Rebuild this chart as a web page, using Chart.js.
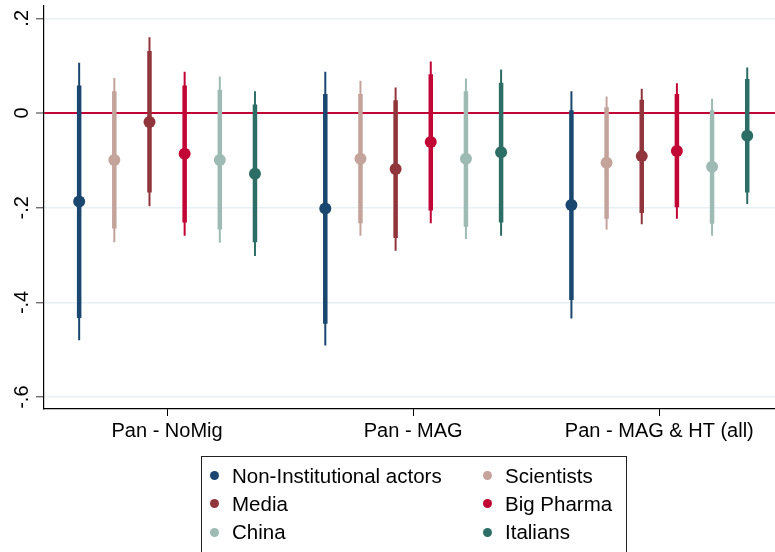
<!DOCTYPE html>
<html>
<head>
<meta charset="utf-8">
<script src="https://cdn.jsdelivr.net/npm/chart.js@4"></script>
<style>
    html, body { margin: 0; padding: 0; background: #fff; }
    #wrap { position: relative; width: 775px; height: 552px; overflow: hidden; }
    #legend {
        position: absolute; left: 201px; top: 456px; width: 426px; height: 120px;
        border: 1px solid #222; box-sizing: border-box;
        padding: 4.5px 0 0 8px;
        font-family: "Liberation Sans", Arial, Helvetica, sans-serif; font-size: 20.5px; color: #000;
        display: grid; grid-template-columns: 273px auto; grid-auto-rows: 28.3px;
    }
    .item { display: flex; align-items: center; white-space: nowrap; }
    .dot { width: 9px; height: 9px; border-radius: 50%; margin-right: 13px; flex: none; }
</style>
</head>
<body>
<div id="wrap">
    <canvas id="coefChart" width="775" height="552"></canvas>
    <div id="legend"></div>
</div>
<script>
// Categories (model specifications) and y ticks
const categories = ['Pan - NoMig', 'Pan - MAG', 'Pan - MAG & HT (all)'];
const yTicks = [-0.6, -0.4, -0.2, 0, 0.2];

// Series (one row per series, one column per category)
const seriesNames = ['Non-Institutional actors', 'Scientists', 'Media', 'Big Pharma', 'China', 'Italians'];
const seriesColors = ['#1a476f', '#c4a39b', '#90353b', '#c10534', '#9ebbb3', '#2c6e65'];

const estimates = [
    [-0.187, -0.2015, -0.194],
    [-0.099, -0.0965, -0.105],
    [-0.019, -0.118, -0.091],
    [-0.086, -0.061, -0.080],
    [-0.099, -0.0965, -0.1135],
    [-0.128, -0.083, -0.048]
];

// thick bars
const innerLow = [
    [-0.433, -0.445, -0.395],
    [-0.244, -0.233, -0.223],
    [-0.168, -0.264, -0.211],
    [-0.231, -0.206, -0.199],
    [-0.246, -0.240, -0.234],
    [-0.273, -0.231, -0.168]
];
const innerHigh = [
    [0.058, 0.040, 0.006],
    [0.046, 0.040, 0.012],
    [0.131, 0.027, 0.028],
    [0.058, 0.082, 0.040],
    [0.049, 0.046, 0.006],
    [0.018, 0.064, 0.072]
];

// thin bars
const outerLow = [
    [-0.480, -0.491, -0.434],
    [-0.273, -0.259, -0.246],
    [-0.197, -0.291, -0.235],
    [-0.259, -0.233, -0.223],
    [-0.274, -0.266, -0.259],
    [-0.302, -0.259, -0.192]
];
const outerHigh = [
    [0.106, 0.087, 0.046],
    [0.074, 0.068, 0.035],
    [0.160, 0.054, 0.051],
    [0.087, 0.109, 0.063],
    [0.077, 0.073, 0.030],
    [0.046, 0.092, 0.096]
];

const FONT = '"Liberation Sans", Arial, Helvetica, sans-serif';
const GRID_COLOR = '#e9f0f3';
const ZERO_COLOR = '#c10534';

// x position of series s in category c
function xPos(s, c) {
    return c + 1 + (s - (seriesNames.length - 1) / 2) / 7;
}

// vertical segments separated by nulls
function segments(s, low, high) {
    const pts = [];
    categories.forEach(function (cat, c) {
        pts.push({ x: xPos(s, c), y: low[s][c] });
        pts.push({ x: xPos(s, c), y: high[s][c] });
        pts.push({ x: xPos(s, c), y: null });
    });
    return pts;
}

const datasets = [];
seriesNames.forEach(function (name, s) {
    datasets.push({
        label: name,
        data: estimates[s].map(function (v, c) { return { x: xPos(s, c), y: v }; }),
        showLine: false,
        pointRadius: 6,
        pointHoverRadius: 6,
        pointBackgroundColor: seriesColors[s],
        pointBorderWidth: 0,
        order: 0
    });
    datasets.push({
        label: name + ' inner',
        data: segments(s, innerLow, innerHigh),
        borderColor: seriesColors[s],
        borderWidth: 4.5,
        pointRadius: 0,
        spanGaps: false,
        order: 1
    });
    datasets.push({
        label: name + ' outer',
        data: segments(s, outerLow, outerHigh),
        borderColor: seriesColors[s],
        borderWidth: 2,
        pointRadius: 0,
        spanGaps: false,
        order: 2
    });
});

// rotated y tick labels, Stata style (.2, 0, -.2 ...)
const yLabelPlugin = {
    id: 'yLabels',
    afterDraw: function (chart) {
        const ctx = chart.ctx;
        const y = chart.scales.y;
        ctx.save();
        ctx.font = '20px ' + FONT;
        ctx.fillStyle = '#000';
        ctx.textAlign = 'center';
        ctx.textBaseline = 'alphabetic';
        yTicks.forEach(function (v) {
            const label = String(Math.round(v * 10) / 10).replace('0.', '.');
            ctx.save();
            ctx.translate(28, y.getPixelForValue(v));
            ctx.rotate(-Math.PI / 2);
            ctx.fillText(label, 0, 0);
            ctx.restore();
        });
        ctx.restore();
    }
};

new Chart(document.getElementById('coefChart'), {
    type: 'line',
    data: { datasets: datasets },
    plugins: [yLabelPlugin],
    options: {
        responsive: false,
        animation: false,
        layout: { autoPadding: false, padding: { top: 6, left: 0, right: 0, bottom: 0 } },
        plugins: {
            legend: { display: false },
            tooltip: { enabled: false }
        },
        scales: {
            x: {
                type: 'linear',
                min: 0.5,
                max: 3.47,
                afterBuildTicks: function (s) {
                    s.ticks = categories.map(function (c, i) { return { value: i + 1 }; });
                },
                afterFit: function (s) { s.height = 143; },
                ticks: {
                    callback: function (v) { return categories[v - 1]; },
                    font: { family: FONT, size: 20 },
                    color: '#000',
                    padding: 3,
                    maxRotation: 0,
                    autoSkip: false
                },
                grid: {
                    drawOnChartArea: false,
                    drawTicks: true,
                    tickLength: 7,
                    tickColor: '#000',
                    tickWidth: 1
                },
                border: { display: true, color: '#000', width: 1.2 }
            },
            y: {
                min: -0.625,
                max: 0.226,
                afterBuildTicks: function (s) {
                    s.ticks = yTicks.map(function (v) { return { value: v }; });
                },
                afterFit: function (s) { s.width = 44; },
                ticks: { display: false },
                grid: {
                    color: function (c) { return c.tick && c.tick.value === 0 ? ZERO_COLOR : GRID_COLOR; },
                    lineWidth: function (c) { return c.tick && c.tick.value === 0 ? 2 : 1.5; },
                    drawTicks: true,
                    tickLength: 8,
                    tickColor: '#555',
                    tickWidth: 1.2
                },
                border: { display: true, color: '#000', width: 1.2 }
            }
        }
    }
});

// legend box below the plot
const legendEl = document.getElementById('legend');
seriesNames.forEach(function (name, s) {
    const item = document.createElement('div');
    item.className = 'item';
    item.innerHTML = '<span class="dot" style="background:' + seriesColors[s] + '"></span>' + name;
    legendEl.appendChild(item);
});
</script>
</body>
</html>
